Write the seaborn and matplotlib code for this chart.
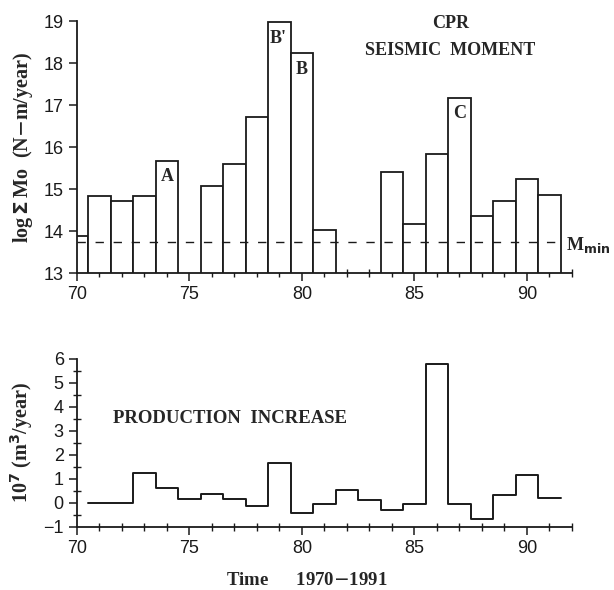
"""
CPR seismic moment vs production increase, 1970-1991.
"""

import matplotlib.pyplot as plt
import numpy as np
import pandas as pd
import seaborn as sns
from matplotlib.ticker import MultipleLocator

sns.set_style("ticks")
plt.rcParams["font.family"] = ["Liberation Sans", "DejaVu Sans"]

# seismic moment, log sum Mo per year (no bar in 75, 82, 83)
moment_years = [70, 71, 72, 73, 74, 76, 77, 78, 79, 80, 81,
                84, 85, 86, 87, 88, 89, 90, 91]
moment_values = [13.89, 14.84, 14.71, 14.83, 15.67, 15.07, 15.61, 16.71, 18.99, 18.24, 14.03,
                 15.41, 14.17, 15.84, 17.18, 14.36, 14.71, 15.24, 14.87]
m_min = 13.74

# production increase, 10^7 m3/year
prod_years = list(range(71, 92))
prod_values = [0.0, 0.0, 1.25, 0.62, 0.14, 0.35, 0.17, -0.14, 1.66, -0.44, -0.03,
               0.55, 0.11, -0.30, -0.03, 5.79, -0.03, -0.66, 0.32, 1.14, 0.19]

# event labels
event_labels = ["A", "B'", "B", "C"]
event_x = [74.0, 78.95, 80.0, 87.0]
event_y = [15.3, 18.6, 17.85, 16.8]

serif_bold = dict(family=["Liberation Serif", "DejaVu Serif"], fontweight="bold")
INK = "#1a1a1a"

fig = plt.figure(figsize=(6.14, 5.90), dpi=100)
ax1 = fig.add_axes([0.1254, 0.537, 0.806, 0.427])
ax2 = fig.add_axes([0.1254, 0.107, 0.806, 0.285])

# --- top: seismic moment bars
moment = pd.DataFrame({"year": moment_years, "logMo": moment_values})
sns.barplot(data=moment, x="year", y="logMo", native_scale=True, width=1.0,
            color="white", edgecolor=INK, linewidth=1.3, ax=ax1)
ax1.axhline(m_min, color=INK, lw=1.0, ls=(0, (6, 7)), xmax=21.5 / 22)
ax1.text(91.75, m_min - 0.08, r"M$_{\mathbf{min}}$", va="center", ha="left",
         fontsize=13, **serif_bold)
for lab, x, y in zip(event_labels, event_x, event_y):
    ax1.text(x, y, lab, ha="center", va="center", fontsize=13, **serif_bold)
ax1.text(86.6, 18.95, "CPR", ha="center", va="center", fontsize=13, **serif_bold)
ax1.text(86.6, 18.3, "SEISMIC  MOMENT", ha="center", va="center", fontsize=13, **serif_bold)

ax1.set_xlim(70, 92)
ax1.set_ylim(13, 19)
ax1.set_ylabel(r"log$\,\mathbf{\Sigma}\,$Mo  (N$-$m/year)", fontsize=14.5, **serif_bold)
ax1.set_xlabel("")

# --- bottom: production increase step line
edges = np.append(np.array(prod_years) - 0.5, prod_years[-1] + 0.5)
steps = prod_values + [prod_values[-1]]
sns.lineplot(x=edges, y=steps, drawstyle="steps-post", color=INK, lw=1.4, ax=ax2)
ax2.text(71.6, 3.5, "PRODUCTION  INCREASE", ha="left", va="center", fontsize=13.5, **serif_bold)

ax2.set_xlim(70, 92)
ax2.set_ylim(-1, 6)
ax2.set_ylabel(r"10$^\mathbf{7}$ (m$^\mathbf{3}$/year)", fontsize=14.5, **serif_bold)
ax2.set_xlabel("Time      1970$-$1991", fontsize=13.5, **serif_bold)
ax2.xaxis.set_label_coords(0.465, -0.27)
ax2.yaxis.set_major_locator(MultipleLocator(1))
ax2.yaxis.set_minor_locator(MultipleLocator(0.5))

for ax in (ax1, ax2):
    sns.despine(ax=ax)
    ax.xaxis.set_major_locator(MultipleLocator(5))
    ax.xaxis.set_minor_locator(MultipleLocator(1))
    ax.spines["left"].set_color(INK)
    ax.spines["bottom"].set_color(INK)
    ax.spines["left"].set_linewidth(1.3)
    ax.spines["bottom"].set_linewidth(1.3)
    ax.tick_params(axis="both", which="major", direction="out", length=6,
                   width=1.1, color=INK, labelsize=13, labelcolor=INK)
    ax.tick_params(axis="both", which="minor", direction="inout", length=6,
                   width=1.0, color=INK)
    ax.yaxis.set_label_coords(-0.085, 0.5)
    ax.patch.set_alpha(0)
ax1.yaxis.set_minor_locator(MultipleLocator(1))
ax1.tick_params(axis="y", which="minor", length=0)

fig.savefig("out.png", dpi=100, facecolor="white")
